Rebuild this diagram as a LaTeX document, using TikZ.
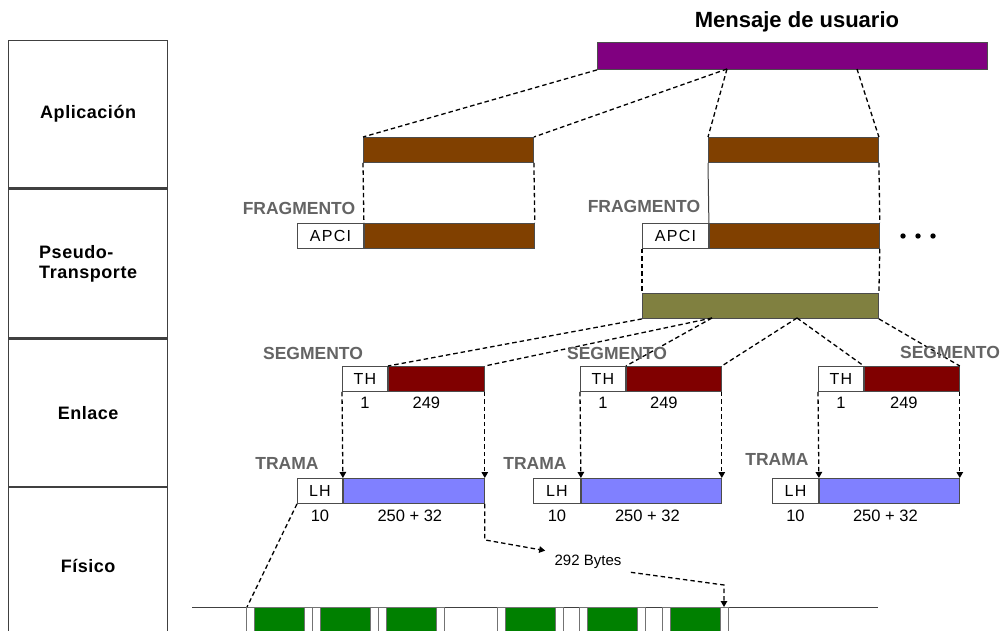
\documentclass[tikz,border=0pt]{standalone}
\usepackage{fontspec}
\setmainfont{Liberation Sans}
\usetikzlibrary{positioning, arrows.meta}
\definecolor{msgPurple}{RGB}{128,0,128}
\definecolor{fragBrown}{RGB}{128,64,0}
\definecolor{segOlive}{RGB}{128,128,64}
\definecolor{segRed}{RGB}{128,0,0}
\definecolor{frameBlue}{RGB}{128,128,255}
\definecolor{byteGreen}{RGB}{0,128,0}
\definecolor{tagGray}{RGB}{100,100,100}
\newcommand{\lyrfont}{\fontsize{18}{20}\selectfont\bfseries\addfontfeatures{LetterSpace=3}}
\newcommand{\tagfont}{\fontsize{17.5}{20}\selectfont\bfseries}
\newcommand{\hdrfont}{\fontsize{16}{18}\selectfont\addfontfeatures{LetterSpace=8}}
\newcommand{\numfont}{\fontsize{16.5}{18}\selectfont}
\tikzset{
  lyr/.style={draw=black!75, line width=1.3pt, minimum width=159pt, align=left, font=\lyrfont},
  bar/.style={draw=black!70, line width=0.9pt, inner sep=0pt, minimum height=25pt},
  hdr/.style={bar, fill=white, font=\hdrfont},
  tag/.style={font=\tagfont, text=tagGray},
  num/.style={font=\numfont},
  dline/.style={line width=1.3pt, dash pattern=on 4.5pt off 3pt},
  darr/.style={dline, -{Triangle[length=6pt, width=6.5pt]}},
  bitcell/.style={draw=black!55, line width=0.9pt}
}

\begin{document}
\begin{tikzpicture}[x=1pt, y=-1pt]
\useasboundingbox (0,0) rectangle (1002,631);

% protocol layers
\node[lyr, minimum height=147pt, anchor=north west] (apl) at (8,40) {Aplicación};
\node[lyr, minimum height=149pt, anchor=north west] (pse) at (apl.south west) {Pseudo-\\Transporte};
\node[lyr, minimum height=147pt, anchor=north west] (enl) at (pse.south west) {Enlace};
\node[lyr, minimum height=157pt, anchor=north west] (fis) at (enl.south west) {Físico};

% user message
\node[font=\fontsize{22}{24}\selectfont\bfseries, anchor=base] (title) at (797,28) {Mensaje de usuario};
\node[bar, fill=msgPurple, minimum width=390pt, minimum height=27pt, anchor=north west] (msg) at (597,42) {};
\coordinate (m1) at (727,69);
\coordinate (m2) at (857,69);

% fragments
\node[bar, fill=fragBrown, minimum width=170pt, anchor=north west] (f1top) at (363,137) {};
\node[bar, fill=fragBrown, minimum width=170pt, anchor=north west] (f2top) at (708,137) {};
\node[hdr, minimum width=66pt, anchor=north west] (apci1) at (297,223) {APCI};
\node[bar, fill=fragBrown, minimum width=170pt, right=0pt of apci1] (f1) {};
\node[hdr, minimum width=66pt, anchor=north west] (apci2) at (642,223) {APCI};
\node[bar, fill=fragBrown, minimum width=170pt, right=0pt of apci2] (f2) {};
\node[tag] (frag1lbl) at (299,208) {FRAGMENTO};
\node[tag] (frag2lbl) at (644,206) {FRAGMENTO};
\foreach \x in {903,918,933} \fill (\x,236) circle (2.7pt);

\draw[dline] (msg.south west) -- (f1top.north west);
\draw[dline] (m1) -- (f1top.north east);
\draw[dline] (m1) -- (f2top.north west);
\draw[dline] (m2) -- (f2top.north east);
\draw[dline] (f1top.south west) -- (f1.north west);
\draw[dline] (f1top.south east) -- (f1.north east);
\draw[draw=black!75, line width=1pt] (f2top.south west) -- (f2.north west);
\draw[dline] (f2top.south east) -- (f2.north east);

% reassembled block
\node[bar, fill=segOlive, minimum width=236pt, anchor=north west] (olive) at (642,293) {};
\coordinate (o1) at (712,318);
\coordinate (o2) at (797,318);
\draw[dline] (apci2.south west) -- (olive.north west);
\draw[dline] (f2.south east) -- (olive.north east);

% segments
\node[hdr, minimum width=45pt, anchor=north west] (th1) at (342,366) {TH};
\node[bar, fill=segRed, minimum width=96pt, right=0pt of th1] (s1) {};
\node[hdr, minimum width=45pt, anchor=north west] (th2) at (580,366) {TH};
\node[bar, fill=segRed, minimum width=95pt, right=0pt of th2] (s2) {};
\node[hdr, minimum width=45pt, anchor=north west] (th3) at (818,366) {TH};
\node[bar, fill=segRed, minimum width=95pt, right=0pt of th3] (s3) {};
\node[num, below=2pt of th1] (n1a) {1};
\node[num, below=2pt of s1, xshift=-10pt] (n1b) {249};
\node[num, below=2pt of th2] (n2a) {1};
\node[num, below=2pt of s2, xshift=-10pt] (n2b) {249};
\node[num, below=2pt of th3] (n3a) {1};
\node[num, below=2pt of s3, xshift=-8pt] (n3b) {249};

\draw[dline] (olive.south west) -- (s1.north west);
\draw[dline] (o1) -- (s1.north east);
\draw[dline] (o1) -- (s2.north west);
\draw[dline] (o2) -- (s2.north east);
\draw[dline] (o2) -- (s3.north west);
\draw[dline] (olive.south east) -- (s3.north east);
\node[tag] (seg1lbl) at (313,353) {SEGMENTO};
\node[tag] (seg2lbl) at (617,353) {SEGMENTO};
\node[tag] (seg3lbl) at (950,352) {SEGMENTO};

% frames
\node[hdr, minimum width=45pt, anchor=north west] (lh1) at (297,478) {LH};
\node[bar, fill=frameBlue, minimum width=141pt, right=0pt of lh1] (b1) {};
\node[hdr, minimum width=47pt, anchor=north west] (lh2) at (533,478) {LH};
\node[bar, fill=frameBlue, minimum width=140pt, right=0pt of lh2] (b2) {};
\node[hdr, minimum width=46pt, anchor=north west] (lh3) at (772,478) {LH};
\node[bar, fill=frameBlue, minimum width=140pt, right=0pt of lh3] (b3) {};
\node[num, below=3pt of lh1] (l1a) {10};
\node[num, below=3pt of b1, xshift=-4pt] (l1b) {250 + 32};
\node[num, below=3pt of lh2] (l2a) {10};
\node[num, below=3pt of b2, xshift=-4pt] (l2b) {250 + 32};
\node[num, below=3pt of lh3] (l3a) {10};
\node[num, below=3pt of b3, xshift=-4pt] (l3b) {250 + 32};
\node[tag] (tr1lbl) at (287,463) {TRAMA};
\node[tag] (tr2lbl) at (535,463) {TRAMA};
\node[tag] (tr3lbl) at (777,459) {TRAMA};

\draw[darr] (th1.south west) -- (b1.north west);
\draw[darr] (s1.south east) -- (b1.north east);
\draw[darr] (th2.south west) -- (b2.north west);
\draw[darr] (s2.south east) -- (b2.north east);
\draw[darr] (th3.south west) -- (b3.north west);
\draw[darr] (s3.south east) -- (b3.north east);

% serial line
\coordinate (wireL) at (192,607);
\coordinate (wireR) at (878,607);
\coordinate (fstart) at (247,607);
\coordinate (fend) at (724,607);
\coordinate (fbend) at (724,585);
\draw[draw=black!75, line width=1pt] (wireL) -- (wireR);
\foreach \s in {246,312,378,497,579,662} {
  \draw[bitcell] (\s,607) rectangle ++(8,30);
  \draw[bitcell, fill=byteGreen] (\s+8,607) rectangle ++(50,30);
  \draw[bitcell] (\s+58,607) rectangle ++(8,30);
}
\node[font=\fontsize{15}{17}\selectfont] (bytes) at (588,562) {292 Bytes};
\draw[dline] (lh1.south west) -- (fstart);
\draw[darr, shorten >=6pt] (b1.south east) -- ++(0,36) -- (bytes.north west);
\draw[darr] ([xshift=6pt]bytes.south east) -- (fbend) -- (fend);
\end{tikzpicture}
\end{document}
